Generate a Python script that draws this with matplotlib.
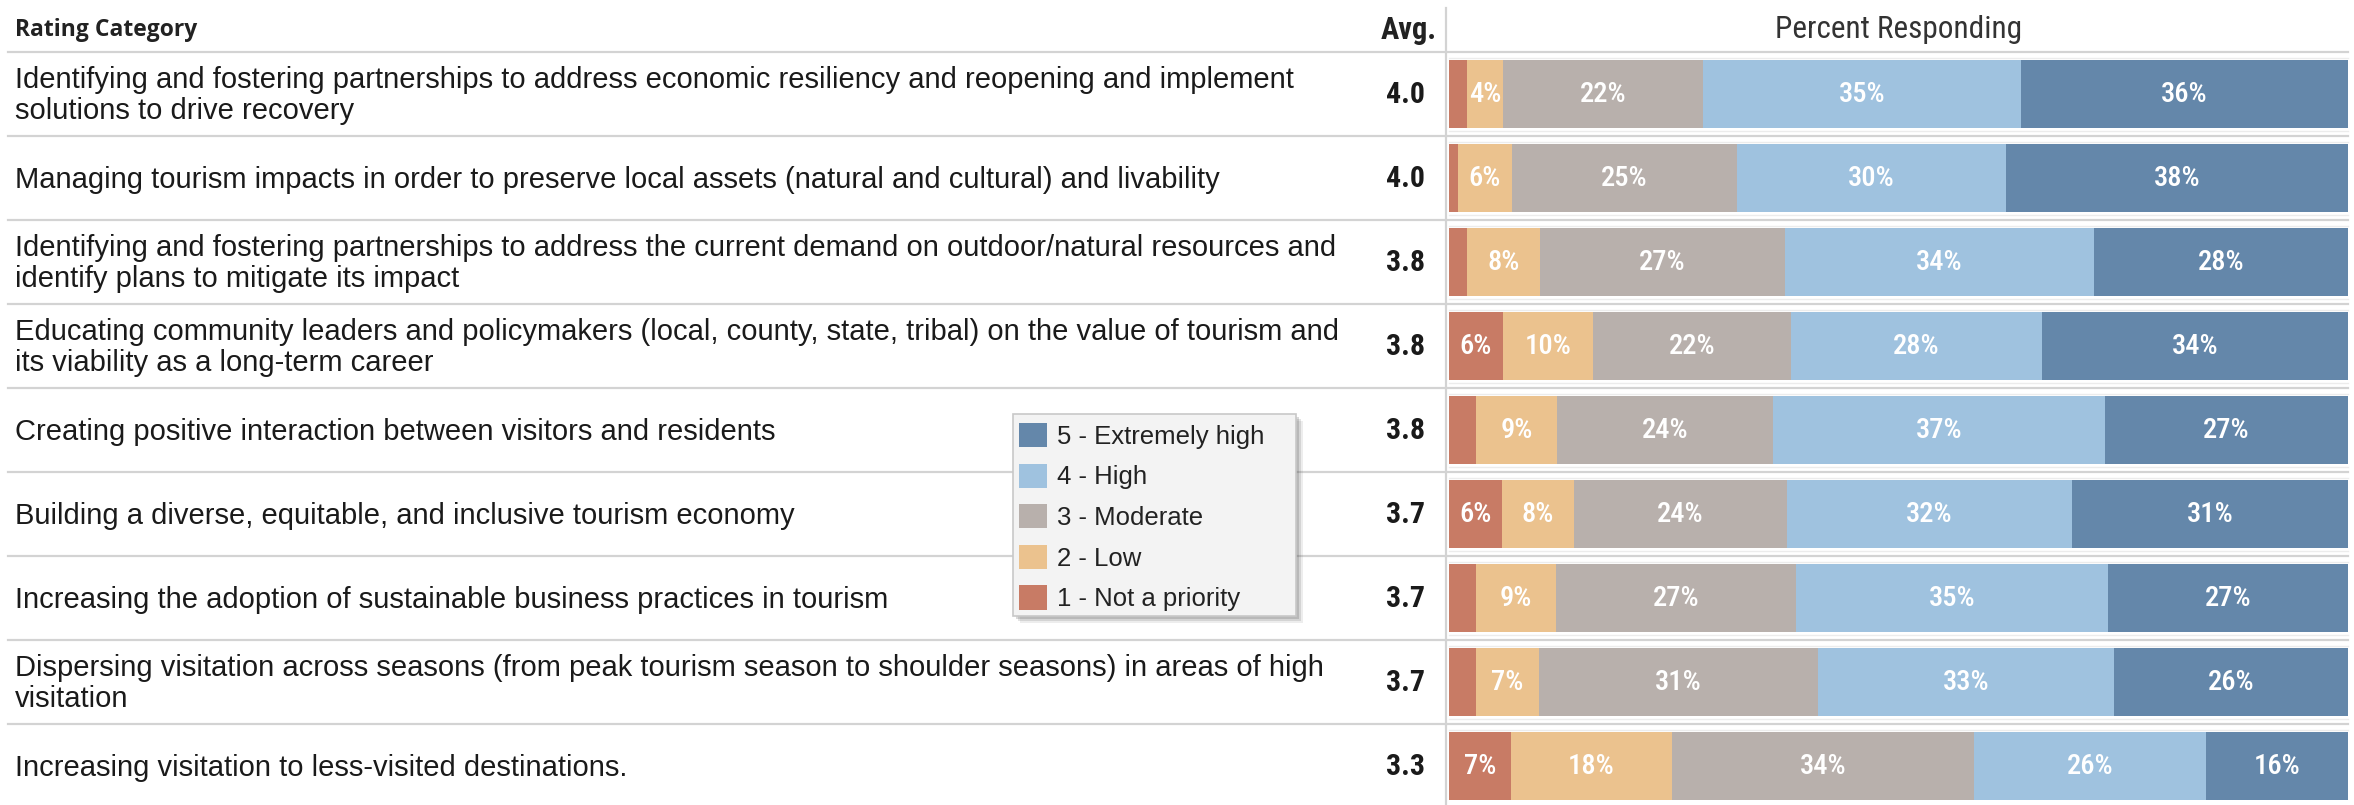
import matplotlib
matplotlib.use("Agg")
import matplotlib.pyplot as plt
from matplotlib import font_manager
from matplotlib.lines import Line2D
from matplotlib.patches import Patch, Rectangle
from matplotlib.transforms import blended_transform_factory
import numpy as np

categories = [
    "Identifying and fostering partnerships to address economic resiliency and reopening and implement\nsolutions to drive recovery",
    "Managing tourism impacts in order to preserve local assets (natural and cultural) and livability",
    "Identifying and fostering partnerships to address the current demand on outdoor/natural resources and\nidentify plans to mitigate its impact",
    "Educating community leaders and policymakers (local, county, state, tribal) on the value of tourism and\nits viability as a long-term career",
    "Creating positive interaction between visitors and residents",
    "Building a diverse, equitable, and inclusive tourism economy",
    "Increasing the adoption of sustainable business practices in tourism",
    "Dispersing visitation across seasons (from peak tourism season to shoulder seasons) in areas of high\nvisitation",
    "Increasing visitation to less-visited destinations.",
]
averages = [4.0, 4.0, 3.8, 3.8, 3.8, 3.7, 3.7, 3.7, 3.3]

levels = ["1 - Not a priority", "2 - Low", "3 - Moderate", "4 - High", "5 - Extremely high"]
not_a_priority = [2, 1, 2, 6, 3, 6, 3, 3, 7]
low = [4, 6, 8, 10, 9, 8, 9, 7, 18]
moderate = [22, 25, 27, 22, 24, 24, 27, 31, 34]
high = [35, 30, 34, 28, 37, 32, 35, 33, 26]
extremely_high = [36, 38, 28, 34, 27, 31, 27, 26, 16]
level_colors = ["#c87b65", "#ebc28e", "#b8b0ac", "#9fc2df", "#6487aa"]


def pick_font(*names):
    avail = {f.name for f in font_manager.fontManager.ttflist}
    for name in names:
        if name in avail:
            return name
    return "DejaVu Sans"


body_font = pick_font("Liberation Sans", "Arial")
narrow_font = pick_font("Roboto Condensed", "Liberation Sans Narrow", "Roboto")
head_font = pick_font("Open Sans", "Noto Sans", "DejaVu Sans")

W, H = 2354, 805
fig = plt.figure(figsize=(W / 100, H / 100), dpi=100)
fig.patch.set_facecolor("white")

n = len(categories)
header_px = 52
row_px = 84
pane_left, pane_right = 1449, 2348
pane_bottom = H - header_px - n * row_px
ax = fig.add_axes([pane_left / W, pane_bottom / H, (pane_right - pane_left) / W, n * row_px / H])
ax.set_xlim(0, 100)
ax.set_ylim(n, 0)
ax.axis("off")

# stacked bars, each row scaled to its respondent total
series = np.array([not_a_priority, low, moderate, high, extremely_high], dtype=float)
totals = series.sum(axis=0)
shares = series / totals * 100
y = np.arange(n) + 0.5
left = np.zeros(n)
for k in range(len(levels)):
    ax.barh(y, shares[k], left=left, height=0.8, color=level_colors[k], edgecolor="none", zorder=2)
    for i in range(n):
        if series[k, i] >= 4:
            ax.text(left[i] + shares[k, i] / 2, y[i], f"{int(series[k, i])}%",
                    ha="center", va="center", color="white", fontsize=20.5,
                    family=narrow_font, fontweight="medium", zorder=3)
    left = left + shares[k]

# row label and average columns
tr = blended_transform_factory(fig.transFigure, ax.transData)
for i in range(n):
    fig.text(15 / W, y[i] + 0.02, categories[i], transform=tr, ha="left", va="center",
             fontsize=21, family=body_font, color="#1a1a1a", linespacing=1.15)
    fig.text(1425 / W, y[i] + 0.01, f"{averages[i]:.1f}", transform=tr, ha="right", va="center",
             fontsize=21.5, family=narrow_font, fontweight="bold", color="#1a1a1a")

# header row
hy = 1 - 30 / H
fig.text(15 / W, hy, "Rating Category", ha="left", va="center", fontsize=16.5,
         family=head_font, fontweight="bold", color="#222222")
fig.text(1437 / W, hy, "Avg.", ha="right", va="center", fontsize=22,
         family=narrow_font, fontweight="bold", color="#222222")
fig.text((pane_left + pane_right) / 2 / W, hy, "Percent Responding", ha="center", va="center",
         fontsize=22.5, family=narrow_font, color="#333333")

# grid lines
line_color = "#d3d3d3"
for i in range(n):
    yy = 1 - (header_px + i * row_px) / H
    fig.add_artist(Line2D([8 / W, pane_right / W], [yy, yy], transform=fig.transFigure,
                          color=line_color, linewidth=1.6))
    if i > 0:
        off = 5 / H
        fig.add_artist(Line2D([pane_left / W, pane_right / W], [yy + off, yy + off],
                              transform=fig.transFigure, color="#ececec", linewidth=1.0))
    off = 6 / H
    fig.add_artist(Line2D([pane_left / W, pane_right / W], [yy - off, yy - off],
                          transform=fig.transFigure, color="#ececec", linewidth=1.0))
fig.add_artist(Line2D([1446 / W, 1446 / W], [0, 1 - 8 / H], transform=fig.transFigure,
                      color=line_color, linewidth=1.6))

# legend panel with a soft drop shadow
bx0, by0, bx1, by1 = 1013, 414, 1296, 616
for d, a in [(7, 0.10), (5, 0.16), (3, 0.22)]:
    fig.add_artist(Rectangle(((bx0 + d) / W, 1 - (by1 + d) / H), (bx1 - bx0) / W, (by1 - by0) / H,
                             transform=fig.transFigure, facecolor="#555555", edgecolor="none",
                             alpha=a, zorder=5))
fig.add_artist(Rectangle((bx0 / W, 1 - by1 / H), (bx1 - bx0) / W, (by1 - by0) / H,
                         transform=fig.transFigure, facecolor="#f3f3f3", edgecolor="#c8c8c8",
                         linewidth=1.2, zorder=6))

handles = [Patch(facecolor=level_colors[k], edgecolor="none", label=levels[k])
           for k in range(len(levels) - 1, -1, -1)]
leg = fig.legend(handles=handles, loc="upper left",
                 bbox_to_anchor=(1019 / W, 1 - 423 / H),
                 prop={"family": body_font, "size": 18.5},
                 frameon=False, handlelength=1.08, handleheight=1.08, handletextpad=0.4,
                 labelspacing=0.57, borderpad=0, borderaxespad=0)
leg.set_zorder(7)
for t in leg.get_texts():
    t.set_color("#222222")

fig.savefig("out.png", dpi=100, facecolor="white")
